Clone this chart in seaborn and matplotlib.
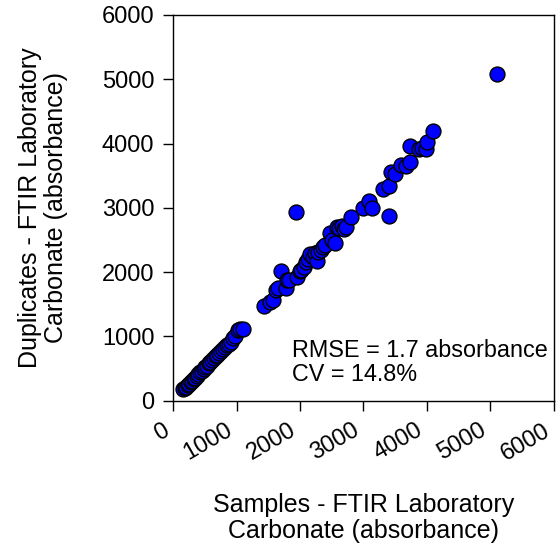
import numpy as np
import pandas as pd
import matplotlib.pyplot as plt
import matplotlib.transforms as mtransforms
import seaborn as sns

# Sample vs duplicate carbonate readings
samples = [
    160, 185, 210, 230, 255, 280, 300, 330, 350, 380, 400, 420, 450, 480, 500,
    530, 560, 590, 620, 650, 670, 700, 730, 760, 790, 820, 850, 880, 910, 945,
    980, 1030, 1060, 1100,
    1430, 1520, 1570, 1620, 1660, 1700, 1775, 1790, 1820, 1930, 1960, 2000,
    2020, 2060, 2090, 2130, 2160, 2200, 2240, 2270, 2290, 2330, 2360, 2400,
    2470, 2500, 2550, 2580, 2620, 2660, 2690, 2720, 2800, 3000, 3085, 3130,
    3310, 3400, 3410, 3440, 3500, 3590, 3665, 3730, 3735, 3880, 3930, 3985,
    4000, 4100, 5110,
]
duplicates = [
    175, 200, 215, 250, 265, 290, 310, 340, 360, 390, 420, 440, 460, 490, 520,
    545, 580, 605, 640, 660, 690, 710, 740, 770, 800, 830, 870, 890, 920, 975,
    1000, 1100, 1115, 1110,
    1470, 1540, 1570, 1720, 1760, 2010, 1760, 1870, 1880, 2930, 1925, 2010,
    2040, 2080, 2150, 2200, 2285, 2240, 2300, 2175, 2310, 2340, 2390, 2420,
    2610, 2500, 2450, 2700, 2680, 2720, 2670, 2700, 2860, 3000, 3110, 2990,
    3300, 3340, 2880, 3550, 3530, 3660, 3650, 3710, 3960, 3920, 3935, 3910,
    4020, 4200, 5075,
]

df = pd.DataFrame({"sample": samples, "duplicate": duplicates})

sns.set_style("white")
plt.rcParams["font.family"] = ["Liberation Sans", "DejaVu Sans"]
plt.rcParams["text.color"] = "black"
plt.rcParams["axes.labelcolor"] = "black"

fig = plt.figure(figsize=(5.6, 5.52), dpi=100)
ax = fig.add_axes([0.309, 0.274, 0.680, 0.699])

sns.scatterplot(
    data=df, x="sample", y="duplicate", ax=ax,
    color="#0000ff", edgecolor="black", linewidth=1.0, s=115, legend=False,
)

ax.set_xlim(0, 6000)
ax.set_ylim(0, 6000)
ax.set_xticks(range(0, 6001, 1000))
ax.set_yticks(range(0, 6001, 1000))
ax.tick_params(direction="out", length=7.5, width=1, labelsize=17,
               bottom=True, left=True, colors="black", pad=6)
plt.setp(ax.get_xticklabels(), rotation=30, ha="right",
         rotation_mode="anchor")
# nudge rotated x labels left so the last one stays inside the figure
shift = mtransforms.ScaledTranslation(-8 / 72, 0, fig.dpi_scale_trans)
for lab in ax.get_xticklabels():
    lab.set_transform(lab.get_transform() + shift)
for sp in ax.spines.values():
    sp.set_color("black")
    sp.set_linewidth(1.0)

ax.set_xlabel("Samples - FTIR Laboratory\nCarbonate (absorbance)",
              fontsize=18, labelpad=20, linespacing=1.1)
ax.set_ylabel("Duplicates - FTIR Laboratory\nCarbonate (absorbance)",
              fontsize=18, labelpad=24, linespacing=1.1)

ax.text(1880, 960, "RMSE = 1.7 absorbance\nCV = 14.8%", fontsize=16.8,
        va="top", ha="left", linespacing=1.05)

fig.savefig("out.png", dpi=100)
